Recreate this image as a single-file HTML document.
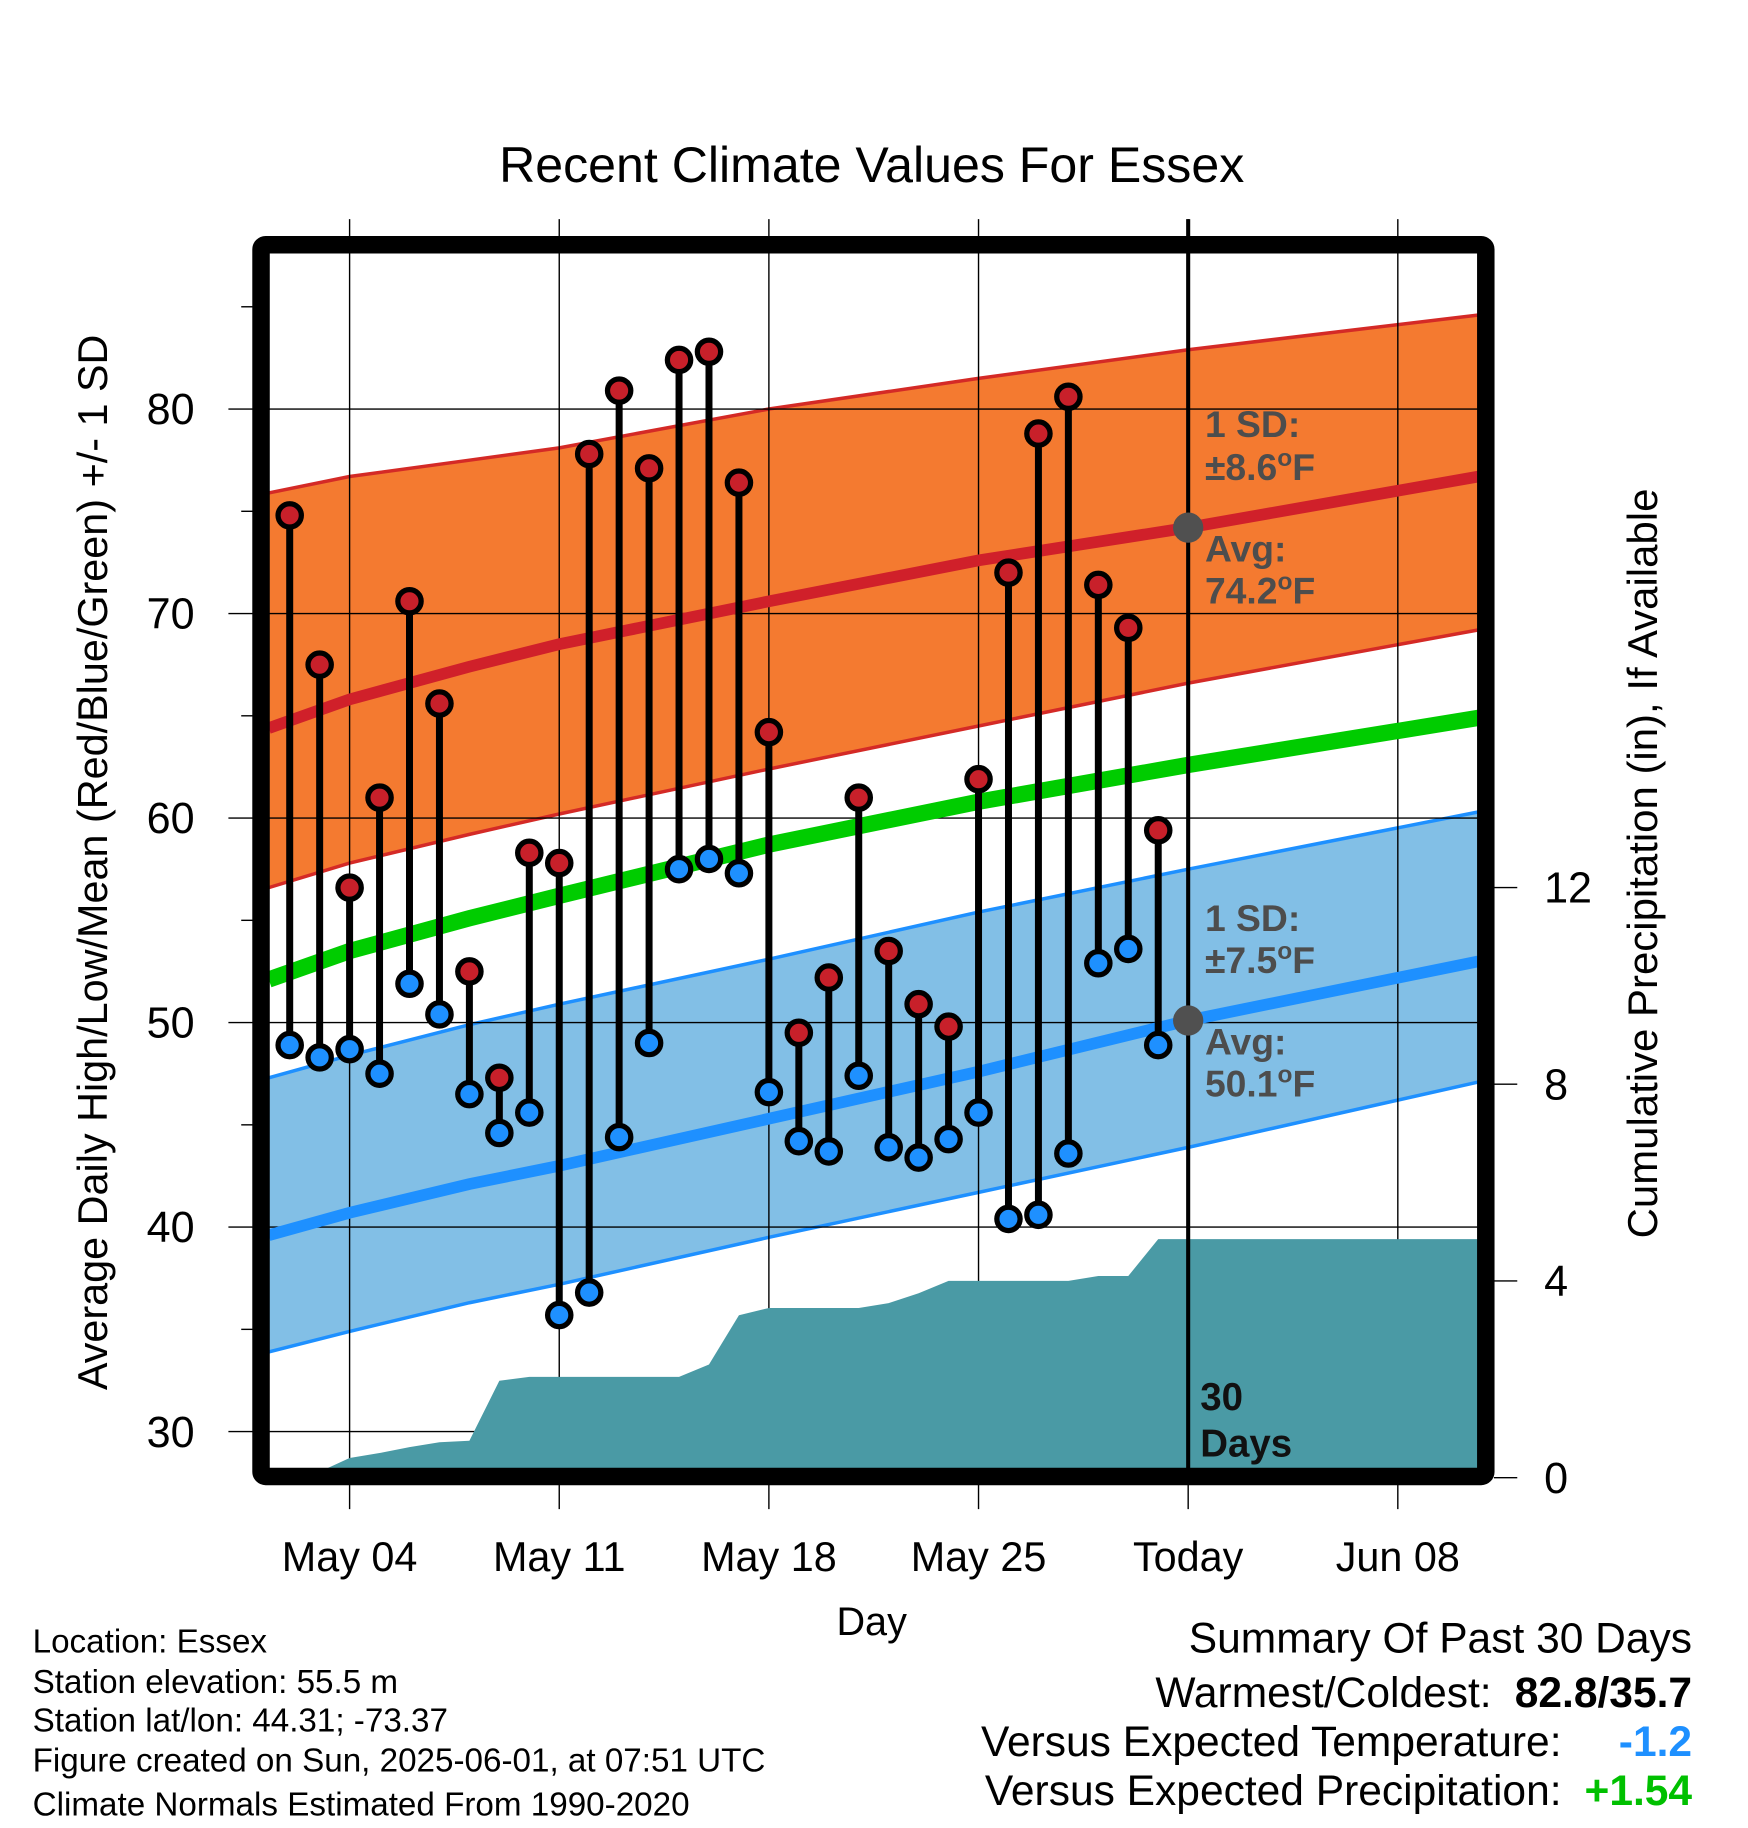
<!DOCTYPE html>
<html><head><meta charset="utf-8"><style>
html,body{margin:0;padding:0;background:#fff;}
svg{display:block;font-family:"Liberation Sans",sans-serif;}
</style></head><body>
<svg id="chart" width="1748" height="1828" viewBox="0 0 1500 1568.65" xmlns="http://www.w3.org/2000/svg">
<text x="748" y="156" font-size="43" text-anchor="middle">Recent Climate Values For Essex</text>
<g id="bands"></g>
<g id="grid"></g>
<g id="precip"></g>
<g id="lines"></g>
<g id="marks"></g>
<g id="annot" font-weight="bold" fill="#4d4d4d" font-size="32">
<text x="1034" y="375">1 SD:</text>
<text x="1034" y="412">±8.6<tspan font-size="21" dy="-12">o</tspan><tspan dy="12">F</tspan></text>
<text x="1034" y="482">Avg:</text>
<text x="1034" y="518">74.2<tspan font-size="21" dy="-12">o</tspan><tspan dy="12">F</tspan></text>
<text x="1034" y="799">1 SD:</text>
<text x="1034" y="835">±7.5<tspan font-size="21" dy="-12">o</tspan><tspan dy="12">F</tspan></text>
<text x="1034" y="905">Avg:</text>
<text x="1034" y="941">50.1<tspan font-size="21" dy="-12">o</tspan><tspan dy="12">F</tspan></text>
<text x="1030" y="1210" fill="#111" font-size="33">30</text>
<text x="1030" y="1250" fill="#111" font-size="33">Days</text>
</g>
<rect x="224" y="210" width="1051" height="1057" fill="none" stroke="#000" stroke-width="15" rx="4"/>
<g id="axes"></g>
<text transform="translate(92,740) rotate(-90)" font-size="35.5" text-anchor="middle">Average Daily High/Low/Mean (Red/Blue/Green) +/- 1 SD</text>
<text transform="translate(1422,741) rotate(-90)" font-size="36" text-anchor="middle">Cumulative Precipitation (in), If Available</text>
<text x="748" y="1403" font-size="34" text-anchor="middle">Day</text>
<g font-size="28.5">
<text x="28" y="1418">Location: Essex</text>
<text x="28" y="1453">Station elevation: 55.5 m</text>
<text x="28" y="1486">Station lat/lon: 44.31; -73.37</text>
<text x="28" y="1520">Figure created on Sun, 2025-06-01, at 07:51 UTC</text>
<text x="28" y="1558">Climate Normals Estimated From 1990-2020</text>
</g>
<g font-size="36.5" text-anchor="end">
<text x="1452" y="1418">Summary Of Past 30 Days</text>
<text x="1280" y="1465">Warmest/Coldest:</text>
<text x="1452" y="1465" font-weight="bold">82.8/35.7</text>
<text x="1340" y="1507">Versus Expected Temperature:</text>
<text x="1452" y="1507" font-weight="bold" fill="#1e90ff">-1.2</text>
<text x="1340" y="1549">Versus Expected Precipitation:</text>
<text x="1452" y="1549" font-weight="bold" fill="#00c000">+1.54</text>
</g>
</svg>
<script>
// Data
const days = [1,2,3,4,5,6,7,8,9,10,11,12,13,14,15,16,17,18,19,20,21,22,23,24,25,26,27,28,29,30];
const highs = [74.8,67.5,56.6,61.0,70.6,65.6,52.5,47.3,58.3,57.8,77.8,80.9,77.1,82.4,82.8,76.4,64.2,49.5,52.2,61.0,53.5,50.9,49.8,61.9,72.0,78.8,80.6,71.4,69.3,59.4];
const lows = [48.9,48.3,48.7,47.5,51.9,50.4,46.5,44.6,45.6,35.7,36.8,44.4,49.0,57.5,58.0,57.3,46.6,44.2,43.7,47.4,43.9,43.4,44.3,45.6,40.4,40.6,43.6,52.9,53.6,48.9];
const precipCum = [0,0.12,0.4,0.5,0.62,0.72,0.75,1.97,2.05,2.05,2.05,2.05,2.05,2.05,2.3,3.3,3.45,3.45,3.45,3.45,3.55,3.75,4.0,4.0,4.0,4.0,4.0,4.1,4.1,4.85];
const normDays = [0.3,3,7,10,17,24,31,40.7];
const hiUpper = [75.9,76.7,77.5,78.1,80.0,81.5,82.9,84.6];
const hiMean = [64.4,65.8,67.4,68.5,70.6,72.6,74.2,76.7];
const hiLower = [56.6,57.8,59.2,60.2,62.4,64.5,66.6,69.2];
const avgMean = [52.1,53.5,55.1,56.2,58.7,60.8,62.6,64.9];
const loUpper = [47.3,48.4,49.9,50.9,53.1,55.4,57.5,60.3];
const loMean = [39.6,40.7,42.1,43.0,45.3,47.6,50.1,53.0];
const loLower = [33.9,34.9,36.3,37.2,39.5,41.7,43.9,47.1];
const yTicks = [30,40,50,60,70,80];
const pTicks = [0,4,8,12];
const xTickDays = [3,10,17,24,31,38];
const xTickLabels = ["May 04","May 11","May 18","May 25","Today","Jun 08"];
const todayDay = 31;

// Axis functions
const X = d => 222.9 + d*25.7;
const Y = v => 351 + (80 - v)*17.55;
const P = p => 1268 - p*42.2;
const NS = "http://www.w3.org/2000/svg";
function mk(tag, attrs, parent){const e=document.createElementNS(NS,tag);for(const k in attrs)e.setAttribute(k,attrs[k]);parent.appendChild(e);return e;}
const bands=document.getElementById('bands'), grid=document.getElementById('grid'), precip=document.getElementById('precip'), lines=document.getElementById('lines'), marks=document.getElementById('marks'), axes=document.getElementById('axes');
const pts=(arr)=>normDays.map((d,i)=>X(d).toFixed(1)+','+Y(arr[i]).toFixed(1));
function band(up,lo,fill,edge,name){
  const poly=mk('polygon',{points:pts(up).concat(pts(lo).reverse()).join(' '),fill:fill},bands);
  
  
  [up,lo].forEach(a=>{const l=mk('polyline',{points:pts(a).join(' '),fill:'none',stroke:edge,'stroke-width':3},bands);
    
    });
}
band(hiUpper,hiLower,'#f47a30','#d42a26','high-sd-band');
band(loUpper,loLower,'#82bfe6','#1e90ff','low-sd-band');
// grid
yTicks.forEach(v=>{const l=mk('line',{x1:196,x2:1268,y1:Y(v),y2:Y(v),stroke:'#000','stroke-width':1.2},grid);
  
  
  const t=mk('text',{x:167,y:Y(v)+13,'font-size':37,'text-anchor':'end'},axes);t.textContent=v;
  
  });
for(let v=35;v<=85;v+=10){const l=mk('line',{x1:207,x2:217,y1:Y(v),y2:Y(v),stroke:'#000','stroke-width':1.2},axes);
  
  }
xTickDays.forEach((d,i)=>{const l=mk('line',{x1:X(d),x2:X(d),y1:188,y2:1295,stroke:'#000','stroke-width':1.2},grid);
  
  
  const t=mk('text',{x:X(d),y:1348,'font-size':35.5,'text-anchor':'middle'},axes);t.textContent=xTickLabels[i];
  
  });
pTicks.forEach(p=>{const l=mk('line',{x1:1282,x2:1302,y1:P(p),y2:P(p),stroke:'#000','stroke-width':1.2},axes);
  
  
  const t=mk('text',{x:1325,y:P(p)+13,'font-size':37},axes);t.textContent=p;
  
  });
// precip area
let pp=[[X(0.3),P(0)]];
days.forEach((d,i)=>pp.push([X(d),P(precipCum[i])]));
pp.push([X(40.7),P(precipCum[precipCum.length-1])]);pp.push([X(40.7),P(0)]);
const pa=mk('polygon',{points:pp.map(p=>p[0].toFixed(1)+','+p[1].toFixed(1)).join(' '),fill:'#4a9aa5'},precip);


// normal lines
[[hiMean,'#d0202a',10,'high-normal-line'],[loMean,'#1e90ff',10,'low-normal-line'],[avgMean,'#00cc00',14,'mean-normal-line']].forEach(a=>{
  const l=mk('polyline',{points:pts(a[0]).join(' '),fill:'none',stroke:a[1],'stroke-width':a[2]},lines);
  
  });
// today line
const tl=mk('line',{x1:X(todayDay),x2:X(todayDay),y1:188,y2:1262,stroke:'#000','stroke-width':3.5},lines);


const interp=(arr,d)=>{for(let i=0;i<normDays.length-1;i++){if(d<=normDays[i+1]){const f=(d-normDays[i])/(normDays[i+1]-normDays[i]);return arr[i]+f*(arr[i+1]-arr[i]);}}return arr[arr.length-1];};
[hiMean,loMean].forEach((a,i)=>{const c=mk('circle',{cx:X(todayDay),cy:Y(interp(a,todayDay)),r:13,fill:'#505050'},lines);
  
  });
// daily marks
days.forEach((d,i)=>{
  const s=mk('line',{x1:X(d),x2:X(d),y1:Y(highs[i]),y2:Y(lows[i]),stroke:'#000','stroke-width':6},marks);
  
  
  const h=mk('circle',{cx:X(d),cy:Y(highs[i]),r:10,fill:'#c8202a',stroke:'#000','stroke-width':4.5},marks);
  
  
  const lo=mk('circle',{cx:X(d),cy:Y(lows[i]),r:10,fill:'#1e90ff',stroke:'#000','stroke-width':4.5},marks);
  
  
});
</script>
</body></html>
